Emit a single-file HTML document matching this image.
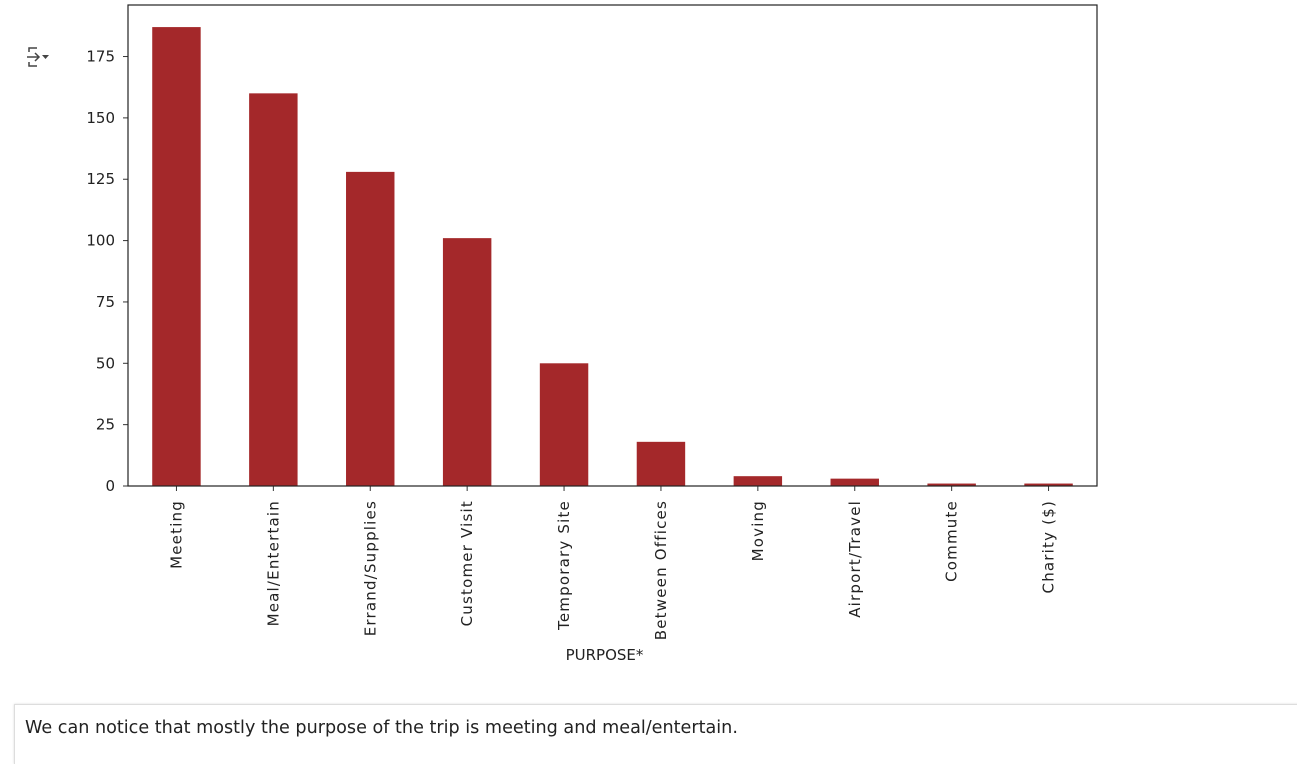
<!DOCTYPE html>
<html><head><meta charset="utf-8"><style>
body{margin:0;width:1297px;height:752px;background:#fff;overflow:hidden;font-family:"Liberation Sans",sans-serif;position:relative}
#note{position:absolute;left:14px;top:704px;width:1290px;height:60px;border-top:1px solid #ddd;border-left:1px solid #ddd;box-shadow:0 0 2px rgba(0,0,0,.15);box-sizing:border-box;padding:13px 0 0 10px;font-family:"DejaVu Sans",sans-serif;font-size:17.6px;color:#222}
</style></head><body>
<svg id="chart" width="1297" height="700" style="position:absolute;left:0;top:0" font-family="DejaVu Sans, sans-serif">
<g stroke="#444" stroke-width="1.5" fill="none">
<path d="M29 52 V48 H37"/><path d="M29 62 V66 H37"/><path d="M27 57 H39"/><path d="M35 53 L39 57 L35 61"/><path d="M42 55 H49 L45.5 59 Z" fill="#444" stroke="none"/>
</g>
<g id="bars"></g><g id="axes"></g>
</svg>
<div id="note">We can notice that mostly the purpose of the trip is meeting and meal/entertain.</div>
<script>
const categories=["Meeting","Meal/Entertain","Errand/Supplies","Customer Visit","Temporary Site","Between Offices","Moving","Airport/Travel","Commute","Charity ($)"];
const counts=[187,160,128,101,50,18,4,3,1,1];
const yTicks=[0,25,50,75,100,125,150,175];
const L=128,R=1097,T=5,B=486,yMax=196;
const ns="http://www.w3.org/2000/svg";
const y=v=>B-v*(B-T)/yMax;
const step=(R-L)/categories.length;
const x=i=>L+step*(i+0.5);
const bars=document.getElementById('bars'),axes=document.getElementById('axes');
function mk(tag,a,p){const e=document.createElementNS(ns,tag);for(const k in a)e.setAttribute(k,a[k]);p.appendChild(e);return e;}
counts.forEach((v,i)=>{
 const r=mk('rect',{x:x(i)-step*0.25,y:y(v),width:step*0.5,height:B-y(v),fill:'#a4282a'},bars);
 
 
 mk('line',{x1:x(i),x2:x(i),y1:B,y2:B+5,stroke:'#333'},axes);
 const t=mk('text',{x:0,y:0,transform:`translate(${x(i)+5},${B+14}) rotate(-90)`,'text-anchor':'end','font-size':'15','letter-spacing':'1.2',fill:'#222'},axes);
 t.textContent=categories[i];
 
 
});
yTicks.forEach(v=>{
 mk('line',{x1:L-5,x2:L,y1:y(v),y2:y(v),stroke:'#333'},axes);
 const t=mk('text',{x:L-13,y:y(v)+5,'text-anchor':'end','font-size':'15',fill:'#222'},axes);
 t.textContent=v;
 
 
});
const f=mk('rect',{x:L,y:T,width:R-L,height:B-T,fill:'none',stroke:'#222','stroke-width':1.2},axes);


const xt=mk('text',{x:(L+R)/2-8,y:660,'text-anchor':'middle','font-size':'15',fill:'#222'},axes);
xt.textContent='PURPOSE*';


</script>
</body></html>
